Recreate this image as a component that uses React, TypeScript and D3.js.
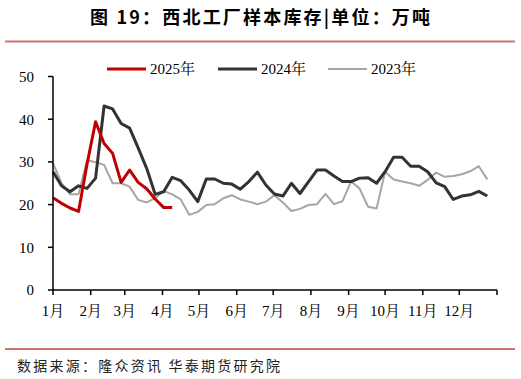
import React from "react";
import * as d3 from "d3";

const monthLabels = ["1月", "2月", "3月", "4月", "5月", "6月", "7月", "8月", "9月", "10月", "11月", "12月"];
const monthStartDays = [0, 31, 59, 90, 120, 151, 181, 212, 243, 273, 304, 334, 365];
const yTicks = [0, 10, 20, 30, 40, 50];

const series2025 = [21.6, 20.3, 19.2, 18.4, 29.5, 39.4, 34.3, 32, 25.2, 28.1, 25.2, 23.7, 21.3, 19.3, 19.3];
const series2024 = [
  27.7, 24.4, 23, 24.4, 23.8, 26.2, 43.1, 42.4, 39, 37.9, 33.3, 28.5, 22.4, 23, 26.4,
  25.6, 23.4, 20.7, 26, 26, 25, 24.8, 23.6, 25.4, 27.6, 24.6, 22.5, 22, 25, 22.6,
  25.3, 28.1, 28.1, 26.7, 25.4, 25.4, 26.2, 26.3, 25, 27.7, 31.1, 31.1, 29, 29, 27.7,
  25.1, 24.2, 21.2, 22, 22.3, 23.1, 22,
];
const series2023 = [
  29.7, 25, 22.4, 22.4, 30.4, 29.9, 29.3, 25, 25, 24.2, 21.1, 20.5, 21.5, 23.2, 22.4,
  21.2, 17.6, 18.3, 19.9, 20.1, 21.5, 22.2, 21.2, 20.7, 20.1, 20.7, 22.2, 20.5, 18.5, 19,
  19.9, 20.1, 22.5, 20.1, 20.8, 25.4, 23.8, 19.5, 19.1, 27.7, 25.9, 25.4, 25, 24.4, 25.8,
  27.5, 26.5, 26.7, 27.1, 27.8, 29, 25.9,
];

const seriesNames = ["2025年", "2024年", "2023年"];
const seriesData = [series2025, series2024, series2023];
const seriesColors = ["#C00000", "#333333", "#A6A6A6"];
const seriesWidths = [3, 3, 2];

export default function App() {
  const W = 521;
  const H = 379;
  const x = d3.scaleLinear().domain([0, 365]).range([53, 497]);
  const y = d3.scaleLinear().domain([0, 50]).range([290, 76.5]);
  const line = d3
    .line<number>()
    .x((_, i) => x(i * 7))
    .y((d) => y(d));

  const serif = "'Liberation Serif', 'Times New Roman', 'Noto Serif CJK SC', 'Noto Sans CJK SC', serif";
  const cjk = "'Noto Sans CJK SC', sans-serif";

  const legendX = [107, 218, 328];

  return (
    <div style={{ position: "fixed", left: 0, top: 0 }}>
      <svg width={W} height={H} style={{ display: "block", background: "#fff" }}>
        <text
          x={260}
          y={24}
          textAnchor="middle"
          fontFamily={cjk}
          fontWeight="bold"
          fontSize={18}
          fill="#000"
          textLength={340}
          lengthAdjust="spacing"
        >
          图 19：西北工厂样本库存|单位：万吨
        </text>
        <line x1={5} x2={515} y1={41.5} y2={41.5} stroke="#c97572" strokeWidth={2} />

        {/* series lines (2023 drawn first) */}
        {[2, 1, 0].map((k) => (
          <path
            key={k}
            d={line(seriesData[k]) || ""}
            fill="none"
            stroke={seriesColors[k]}
            strokeWidth={seriesWidths[k]}
            strokeLinejoin="round"
          />
        ))}

        {/* y axis */}
        <line x1={53} x2={53} y1={y(50)} y2={y(0)} stroke="#000" strokeWidth={1.5} />
        {yTicks.map((t) => (
          <g key={t}>
            <line x1={48} x2={53} y1={y(t)} y2={y(t)} stroke="#000" strokeWidth={1.5} />
            <text
              x={34}
              y={y(t)}
              dy="0.36em"
              textAnchor="end"
              fontFamily={serif}
              fontSize={15}
              fill="#000"
            >
              {t}
            </text>
          </g>
        ))}

        {/* x axis */}
        <line x1={x(0)} x2={x(365)} y1={y(0)} y2={y(0)} stroke="#000" strokeWidth={1.5} />
        {monthStartDays.map((d) => (
          <line key={d} x1={x(d)} x2={x(d)} y1={y(0)} y2={y(0) + 5} stroke="#000" strokeWidth={1.5} />
        ))}
        {monthLabels.map((m, i) => (
          <text
            key={m}
            x={x(monthStartDays[i])}
            y={316}
            textAnchor="middle"
            fontFamily={serif}
            fontSize={15}
            fill="#000"
          >
            {m}
          </text>
        ))}

        {/* legend */}
        {seriesNames.map((n, k) => (
          <g key={n}>
            <line
              x1={legendX[k]}
              x2={legendX[k] + 39}
              y1={69}
              y2={69}
              stroke={seriesColors[k]}
              strokeWidth={seriesWidths[k]}
            />
            <text x={legendX[k] + 43} y={74} fontFamily={serif} fontSize={15} fill="#000">
              {n}
            </text>
          </g>
        ))}

        <line x1={5} x2={515} y1={349} y2={349} stroke="#c97572" strokeWidth={2} />
        <text
          x={17}
          y={371}
          fontFamily={cjk}
          fontSize={14}
          fill="#222"
          textLength={263}
          lengthAdjust="spacing"
        >
          数据来源：隆众资讯 华泰期货研究院
        </text>
      </svg>
    </div>
  );
}
